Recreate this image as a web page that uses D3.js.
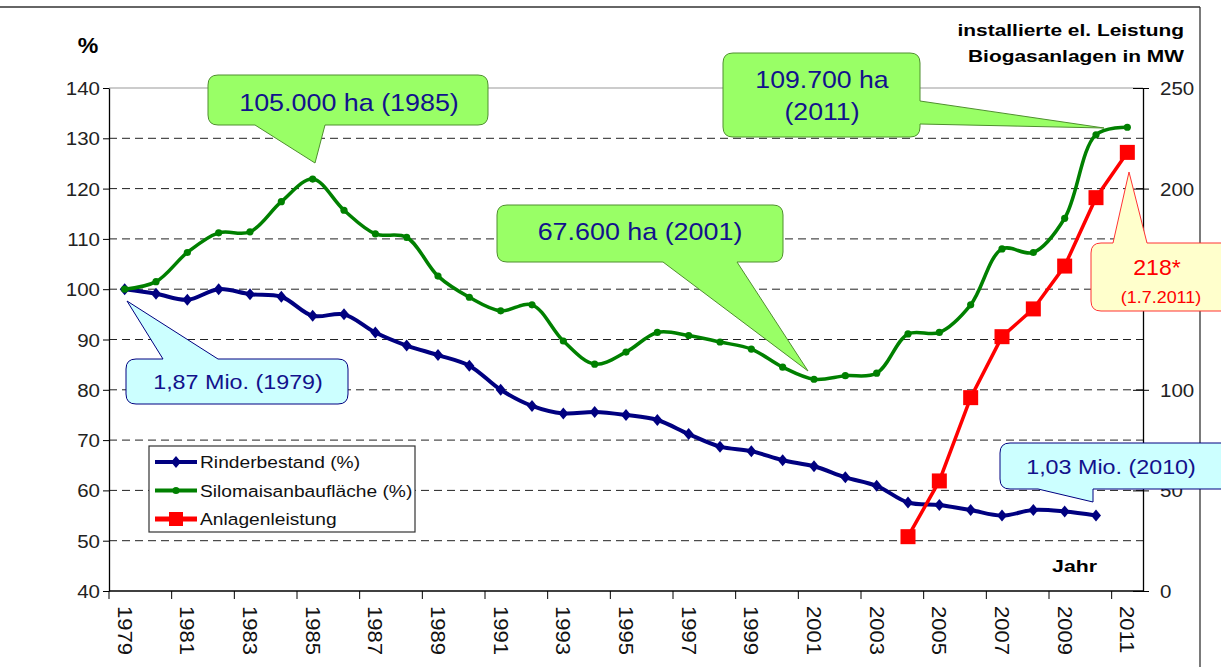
<!DOCTYPE html>
<html>
<head>
<meta charset="utf-8">
<script src="https://cdn.jsdelivr.net/npm/d3@7"></script>
<style>
body{margin:0;background:#fff;}
text{font-family:"Liberation Sans",Arial,sans-serif;}
</style>
</head>
<body>
<div id="container"></div>
<script>
// data
var years = [1979,1980,1981,1982,1983,1984,1985,1986,1987,1988,1989,1990,1991,1992,1993,1994,1995,1996,1997,1998,1999,2000,2001,2002,2003,2004,2005,2006,2007,2008,2009,2010,2011];
var labelYears = [1979,1981,1983,1985,1987,1989,1991,1993,1995,1997,1999,2001,2003,2005,2007,2009,2011];
var silomais = [100,101.5,107.3,111.2,111.4,117.4,121.9,115.7,111,110.3,102.6,98.4,95.7,96.9,89.7,85.1,87.5,91.4,90.8,89.5,88.1,84.5,82.1,82.8,83.3,91.1,91.4,96.9,108,107.3,114.1,130.7,132.2];
var rinderYears = years.slice(0,32);
var rinder = [100,99.1,97.9,100,99,98.5,94.7,95,91.4,88.8,86.9,84.8,80,76.8,75.3,75.6,75,74,71.2,68.7,67.8,66,64.8,62.6,60.9,57.6,57.1,56.1,55,56.1,55.8,55];
var anlagenYears = [2004,2005,2006,2007,2008,2009,2010,2011];
var anlagen = [27,54.7,96.1,126.4,140.2,161.5,195.5,218];
var leftTicks = [40,50,60,70,80,90,100,110,120,130,140];
var rightTicks = [0,50,100,150,200,250];
var rightLabels = [0,50,100,200,250]; // 150 sits under the 218* callout
var legendNames = ["Rinderbestand (%)","Silomaisanbaufläche (%)","Anlagenleistung"];

var W=1221,H=667;
var navy="#000080",green="#008000",red="#ff0000",calloutText="#12128c";

var svg = d3.select("#container").append("svg").attr("width",W).attr("height",H);

var x = d3.scaleBand().domain(years).range([109,1143]);
var cx = function(yr){ return x(yr)+x.bandwidth()/2; };
var yL = d3.scaleLinear().domain([40,140]).range([591,88]);
var yR = d3.scaleLinear().domain([0,250]).range([591,88]);

// text helper with horizontal stretch
function txt(g,px,py,s,o){
	var t = g.append("text")
		.attr("transform","translate("+px+","+py+") scale("+(o.sx||1)+",1)")
		.attr("font-size",o.size)
		.attr("font-weight",o.bold?"bold":"normal")
		.attr("text-anchor",o.anchor||"start")
		.attr("fill",o.fill||"#000")
		.text(s);
	return t;
}

// outer frame
svg.append("line").attr("x1",0).attr("x2",1200).attr("y1",7).attr("y2",7).attr("stroke","#333").attr("stroke-width",1.3);
svg.append("line").attr("x1",1200).attr("x2",1200).attr("y1",7).attr("y2",H).attr("stroke","#333").attr("stroke-width",1.3);

// grid
svg.append("g").selectAll("line").data(leftTicks.filter(function(d){return d>40 && d<140;}))
	.enter().append("line")
	.attr("x1",109).attr("x2",1143)
	.attr("y1",function(d){return yL(d);}).attr("y2",function(d){return yL(d);})
	.attr("stroke","#222").attr("stroke-dasharray","8,5").attr("stroke-width",1);
svg.append("line").attr("x1",109).attr("x2",1143).attr("y1",yL(140)).attr("y2",yL(140))
	.attr("stroke","#999").attr("stroke-width",1.2);

// left axis
var gl = svg.append("g").attr("transform","translate(109,0)")
	.call(d3.axisLeft(yL).tickValues(leftTicks).tickSize(6).tickSizeOuter(0).tickFormat(d3.format("d")));
gl.select(".domain").attr("stroke","#000").attr("stroke-width",1.3);
gl.selectAll(".tick line").attr("stroke","#000");
gl.selectAll(".tick text").remove();
leftTicks.forEach(function(d){
	txt(svg,100,yL(d)+7,d,{size:19,sx:1.08,anchor:"end",fill:"#222"});
});

// right axis
var gr = svg.append("g").attr("transform","translate(1143,0)")
	.call(d3.axisRight(yR).tickValues(rightTicks).tickSize(6).tickSizeOuter(0));
gr.select(".domain").attr("stroke","#000").attr("stroke-width",1.3);
gr.selectAll(".tick line").attr("stroke","#000").attr("x1",-10);
gr.selectAll(".tick text").remove();
rightLabels.forEach(function(d){
	txt(svg,1160,yR(d)+7,d,{size:19,sx:1.08,fill:"#222"});
});

// x axis
svg.append("line").attr("x1",109).attr("x2",1143).attr("y1",591).attr("y2",591).attr("stroke","#000").attr("stroke-width",1.3);
svg.append("g").selectAll("line").data(labelYears).enter().append("line")
	.attr("x1",function(d){return x(d);}).attr("x2",function(d){return x(d);})
	.attr("y1",591).attr("y2",599).attr("stroke","#000");
svg.append("g").selectAll("text").data(labelYears).enter().append("text")
	.attr("transform",function(d){return "translate("+(cx(d)-7)+",606) rotate(90) scale(1.1,1)";})
	.attr("font-size",20).attr("fill","#111").text(function(d){return d;});

// axis titles
txt(svg,88,53,"%",{size:22,bold:true,sx:1.05,anchor:"middle"});
txt(svg,1184,36,"installierte el. Leistung",{size:17,bold:true,sx:1.23,anchor:"end"});
txt(svg,1184,62,"Biogasanlagen in MW",{size:17,bold:true,sx:1.23,anchor:"end"});
txt(svg,1097,572,"Jahr",{size:17,bold:true,sx:1.25,anchor:"end"});

// series
var lineL = d3.line().curve(d3.curveCatmullRom.alpha(0.5))
	.x(function(d){return cx(d[0]);}).y(function(d){return yL(d[1]);});
var rinderPts = rinderYears.map(function(d,i){return [d,rinder[i]];});
var silomaisPts = years.map(function(d,i){return [d,silomais[i]];});
var anlagenPts = anlagenYears.map(function(d,i){return [d,anlagen[i]];});

function diamond(px,py){ return "M"+px+","+(py-6)+"L"+(px+5)+","+py+"L"+px+","+(py+6)+"L"+(px-5)+","+py+"Z"; }

svg.append("path").datum(rinderPts).attr("d",lineL).attr("fill","none").attr("stroke",navy).attr("stroke-width",4);
svg.append("g").selectAll("path").data(rinderPts).enter().append("path")
	.attr("d",function(d){return diamond(cx(d[0]),yL(d[1]));}).attr("fill",navy);

svg.append("path").datum(silomaisPts).attr("d",lineL).attr("fill","none").attr("stroke",green).attr("stroke-width",3.5);
svg.append("g").selectAll("circle").data(silomaisPts).enter().append("circle")
	.attr("cx",function(d){return cx(d[0]);}).attr("cy",function(d){return yL(d[1]);}).attr("r",3.6).attr("fill",green);

var lineR = d3.line().x(function(d){return cx(d[0]);}).y(function(d){return yR(d[1]);});
svg.append("path").datum(anlagenPts).attr("d",lineR).attr("fill","none").attr("stroke",red).attr("stroke-width",3.5);
svg.append("g").selectAll("rect").data(anlagenPts).enter().append("rect")
	.attr("x",function(d){return cx(d[0])-7.5;}).attr("y",function(d){return yR(d[1])-7.5;})
	.attr("width",15).attr("height",15).attr("fill",red);

// legend
var lg = svg.append("g");
lg.append("rect").attr("x",149).attr("y",446).attr("width",266).attr("height",86).attr("fill","#fff").attr("stroke","#333").attr("stroke-width",1.2);
[navy,green,red].forEach(function(c,i){
	var ly = 462+i*28.5;
	lg.append("line").attr("x1",155).attr("x2",197).attr("y1",ly).attr("y2",ly).attr("stroke",c).attr("stroke-width",i==2?5:4);
	if(i==0) lg.append("path").attr("d",diamond(176,ly)).attr("fill",c);
	if(i==1) lg.append("circle").attr("cx",176).attr("cy",ly).attr("r",3.6).attr("fill",c);
	if(i==2) lg.append("rect").attr("x",169).attr("y",ly-7).attr("width",14).attr("height",14).attr("fill",c);
	txt(lg,200,ly+6,legendNames[i],{size:17,sx:1.13,fill:"#111"});
});

// callouts
function callout(b,side,a1,a2,tip){
	var x0=b[0],y0=b[1],x1=b[2],y1=b[3],r=10,p=[];
	p.push("M"+(x0+r)+","+y0);
	if(side=="top") p.push("L"+a1+","+y0+"L"+tip[0]+","+tip[1]+"L"+a2+","+y0);
	p.push("L"+(x1-r)+","+y0+"Q"+x1+","+y0+" "+x1+","+(y0+r));
	if(side=="right") p.push("L"+x1+","+a1+"L"+tip[0]+","+tip[1]+"L"+x1+","+a2);
	p.push("L"+x1+","+(y1-r)+"Q"+x1+","+y1+" "+(x1-r)+","+y1);
	if(side=="bottom") p.push("L"+a2+","+y1+"L"+tip[0]+","+tip[1]+"L"+a1+","+y1);
	p.push("L"+(x0+r)+","+y1+"Q"+x0+","+y1+" "+x0+","+(y1-r));
	p.push("L"+x0+","+(y0+r)+"Q"+x0+","+y0+" "+(x0+r)+","+y0+"Z");
	return p.join("");
}
var cg = svg.append("g");
var greenFill="#99ff66",greenStroke="#4f8f2f";
cg.append("path").attr("d",callout([208,75,488,125],"bottom",255,325,[315,163])).attr("fill",greenFill).attr("stroke",greenStroke);
txt(cg,349,111,"105.000 ha (1985)",{size:24,sx:1.12,anchor:"middle",fill:calloutText});

cg.append("path").attr("d",callout([723,53,920,137],"right",101,124,[1104,128])).attr("fill",greenFill).attr("stroke",greenStroke);
txt(cg,822,88,"109.700 ha",{size:24,sx:1.11,anchor:"middle",fill:calloutText});
txt(cg,822,120,"(2011)",{size:24,sx:1.11,anchor:"middle",fill:calloutText});

cg.append("path").attr("d",callout([497,205,783,262],"bottom",663,737,[808,371])).attr("fill",greenFill).attr("stroke",greenStroke);
txt(cg,640,240,"67.600 ha (2001)",{size:24,sx:1.12,anchor:"middle",fill:calloutText});

cg.append("path").attr("d",callout([126,359,348,404],"top",163,218,[127,301])).attr("fill","#ccffff").attr("stroke",navy);
txt(cg,238,389,"1,87 Mio. (1979)",{size:21,sx:1.11,anchor:"middle",fill:calloutText});

cg.append("path").attr("d",callout([1000,443,1232,489],"bottom",1038,1093,[1093,502])).attr("fill","#ccffff").attr("stroke",navy);
txt(cg,1111,474,"1,03 Mio. (2010)",{size:21,sx:1.11,anchor:"middle",fill:calloutText});

cg.append("path").attr("d",callout([1091,243,1232,311],"top",1113,1147,[1129,172])).attr("fill","#ffffcc").attr("stroke","#ff3333");
txt(cg,1157,275,"218*",{size:22,sx:1.05,anchor:"middle",fill:red});
txt(cg,1161,303,"(1.7.2011)",{size:16,sx:1.12,anchor:"middle",fill:red});
</script>
</body>
</html>
